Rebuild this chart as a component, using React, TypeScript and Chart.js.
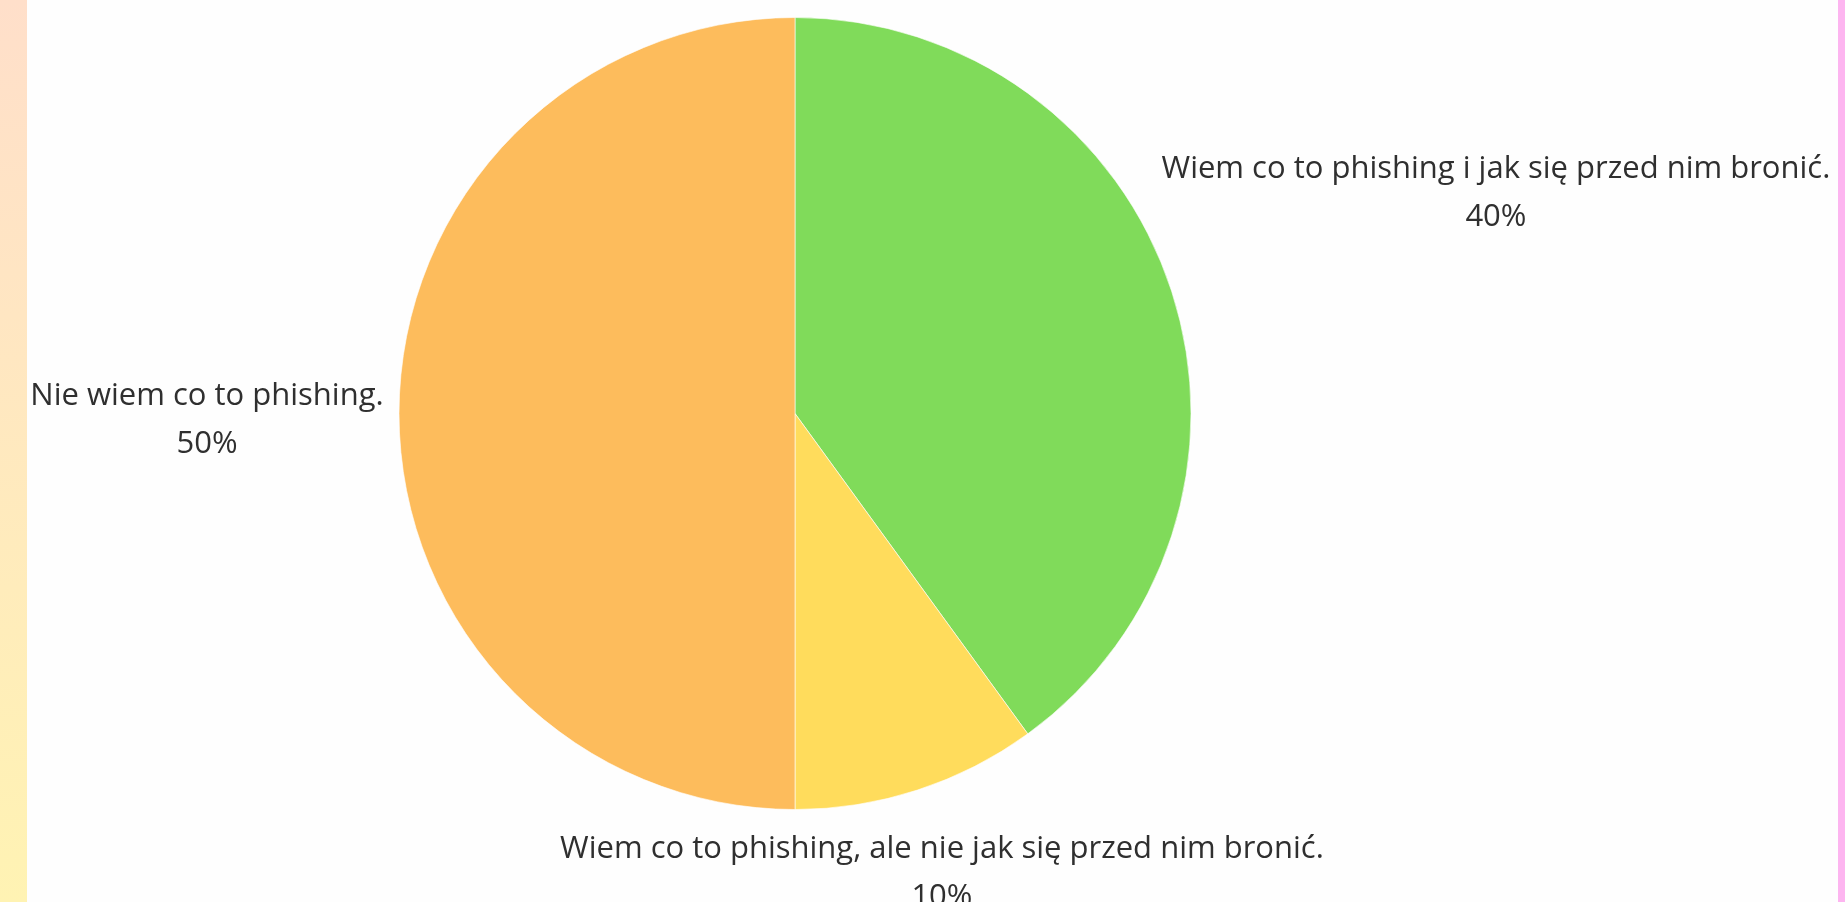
import React, { useEffect, useRef } from "react";
import { Chart, registerables } from "chart.js";

Chart.register(...registerables);

const categories = [
  "Wiem co to phishing i jak się przed nim bronić.",
  "Wiem co to phishing, ale nie jak się przed nim bronić.",
  "Nie wiem co to phishing.",
];
const values = [40, 10, 50];
const percentLabels = ["40%", "10%", "50%"];
const colors = ["#80DB5A", "#FFDC5C", "#FDBC5C"];

const FONT_SIZE = 31;
const LINE_H = 48;
const BOX_H = 82;
const TEXT_SHIFT = 7;
const GAP = 15;

const outsideLabels = {
  id: "outsideLabels",
  afterDraw(chart: any) {
    const ctx = chart.ctx;
    const meta = chart.getDatasetMeta(0);
    ctx.save();
    ctx.font = `${FONT_SIZE}px "Open Sans"`;
    ctx.fillStyle = "#2f2f2f";
    ctx.textAlign = "center";
    ctx.textBaseline = "middle";
    meta.data.forEach((arc: any, i: number) => {
      const p = arc.getProps(["x", "y", "startAngle", "endAngle", "outerRadius"], true);
      const mid = (p.startAngle + p.endAngle) / 2;
      const dx = Math.cos(mid);
      const dy = Math.sin(mid);
      const lines = [categories[i], percentLabels[i]];
      const w = Math.max(...lines.map((l) => ctx.measureText(l).width));
      const h = BOX_H;
      const target = p.outerRadius + GAP;
      let d = 0;
      for (; d < 2000; d += 0.5) {
        const cx = p.x + dx * d;
        const cy = p.y + dy * d;
        const nx = Math.max(cx - w / 2, Math.min(p.x, cx + w / 2));
        const ny = Math.max(cy - h / 2, Math.min(p.y, cy + h / 2));
        if (Math.hypot(nx - p.x, ny - p.y) >= target) break;
      }
      const cx = p.x + dx * d;
      const cy = p.y + dy * d + TEXT_SHIFT;
      const n = lines.length;
      lines.forEach((l, k) => {
        ctx.fillText(l, cx, cy + LINE_H * (k - (n - 1) / 2));
      });
    });
    ctx.restore();
  },
};

export default function App() {
  const ref = useRef<HTMLCanvasElement>(null);
  useEffect(() => {
    document.body.style.margin = "0";
    const chart = new Chart(ref.current as HTMLCanvasElement, {
      type: "pie",
      data: {
        labels: categories,
        datasets: [
          {
            data: values,
            backgroundColor: colors,
            borderColor: "rgba(255,255,255,0.6)",
            borderWidth: 1,
          },
        ],
      },
      options: {
        animation: false,
        responsive: false,
        layout: { padding: { left: 398, right: 653, top: 17, bottom: 92 } },
        plugins: { legend: { display: false }, tooltip: { enabled: false } },
      },
      plugins: [outsideLabels],
    });
    return () => chart.destroy();
  }, []);
  return (
    <div style={{ position: "relative", width: 1845, height: 902, background: "#FEFEFE", overflow: "hidden" }}>
      <div
        style={{
          position: "absolute",
          left: 0,
          top: 0,
          width: 27,
          height: 902,
          background: "linear-gradient(to bottom, #FFDFCA, #FFF3B3)",
        }}
      />
      <div style={{ position: "absolute", left: 1838, top: 0, width: 7, height: 902, background: "#FDB5F0" }} />
      <canvas ref={ref} width={1845} height={902} style={{ position: "absolute", left: 0, top: 0 }} />
    </div>
  );
}
